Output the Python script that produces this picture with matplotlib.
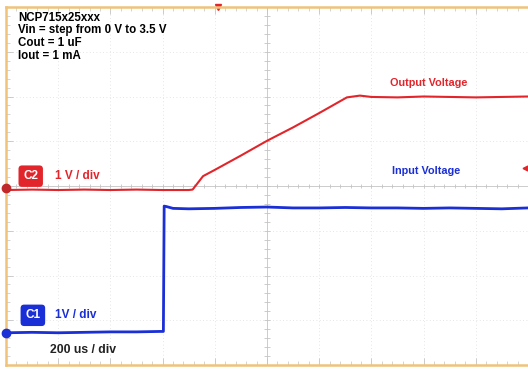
import numpy as np
import matplotlib.pyplot as plt

plt.rcParams['font.family'] = ['Liberation Sans', 'DejaVu Sans']

# scope settings
t_per_div = 200      # us / div
n_xdiv, n_ydiv = 10, 8
c2_ground = 3.95     # divisions from bottom
c1_ground = 0.72

# C1 - input voltage (V), time in us
t_in = [0, 100, 200, 300, 400, 500, 590, 603, 606, 615, 640, 700, 800, 900, 1000,
        1100, 1200, 1300, 1400, 1500, 1600, 1700, 1800, 1900, 2000]
v_in = [0.0, 0.01, 0.0, 0.01, 0.02, 0.02, 0.03, 0.03, 2.83, 2.82, 2.78, 2.77, 2.78, 2.80, 2.81,
        2.79, 2.79, 2.80, 2.79, 2.79, 2.78, 2.79, 2.78, 2.77, 2.79]

# C2 - output voltage (V)
t_out = [0, 100, 200, 300, 400, 500, 600, 700, 715, 755, 800, 900, 1000, 1100, 1200,
         1306, 1356, 1400, 1500, 1600, 1700, 1800, 1900, 2000]
v_out = [-0.04, -0.03, -0.04, -0.03, -0.04, -0.03, -0.04, -0.04, -0.03, 0.27, 0.41, 0.73, 1.06,
         1.36, 1.68, 2.03, 2.07, 2.04, 2.03, 2.05, 2.04, 2.03, 2.04, 2.05]

fig = plt.figure(figsize=(5.28, 3.69), dpi=100)
ax = fig.add_axes([6 / 528, 4 / 369, 522 / 528, 358 / 369])
ax.set_xlim(0, n_xdiv * t_per_div)
ax.set_ylim(0, n_ydiv)

# graticule
for i in range(1, n_xdiv):
    ax.axvline(i * t_per_div, color='#dddddd', lw=0.6, ls=(0, (1, 3)), zorder=0)
for j in range(1, n_ydiv):
    ax.axhline(j, color='#dddddd', lw=0.6, ls=(0, (1, 3)), zorder=0)
xc = n_xdiv * t_per_div / 2
yc = n_ydiv / 2
ax.axvline(xc, color='#cccccc', lw=0.7, zorder=0)
ax.axhline(yc, color='#cccccc', lw=0.7, zorder=0)
xm = np.arange(0, n_xdiv * t_per_div + 1, t_per_div / 5)
ym = np.arange(0, n_ydiv + 0.01, 0.2)
ax.plot(xm, np.full(len(xm), yc), ls='none', marker='|', ms=3, color='#c4c4c4', mew=0.6, zorder=0)
ax.plot(np.full(len(ym), xc), ym, ls='none', marker='_', ms=4, color='#c4c4c4', mew=0.6, zorder=0)

for s in ['left', 'top', 'bottom']:
    ax.spines[s].set_color('#f0c27a')
    ax.spines[s].set_linewidth(1.8)
ax.spines['right'].set_visible(False)
ax.set_xticks(np.arange(0, n_xdiv * t_per_div + 1, t_per_div))
ax.set_xticks(xm, minor=True)
ax.set_yticks(np.arange(0, n_ydiv + 1))
ax.set_yticks(ym, minor=True)
ax.tick_params(which='both', direction='in', colors='#c4c4c4', labelleft=False,
               labelbottom=False, top=True, right=False)
ax.tick_params(which='major', length=5, width=0.6)
ax.tick_params(which='minor', length=3, width=0.5)

# traces
ax.plot(t_out, np.array(v_out) + c2_ground, color='#e2252b', lw=1.5, zorder=3)
ax.plot(t_in, np.array(v_in) + c1_ground, color='#1a2fd6', lw=2.0, zorder=3)

# ground markers
ax.plot(0, c2_ground, 'o', color='#c0282a', ms=6, clip_on=False, zorder=4)
ax.plot(0, c1_ground, 'o', color='#1a2fd6', ms=6, clip_on=False, zorder=4)

# trigger markers
ax.plot(4.07 * t_per_div, n_ydiv, marker='v', color='#e2252b', ms=4, clip_on=False)
ax.plot(9.95 * t_per_div, 4.4, marker='<', color='#e2252b', ms=3.5)

# labels
ax.text(0.023, 0.987, 'NCP715x25xxx\nVin = step from 0 V to 3.5 V\nCout = 1 uF\nIout = 1 mA',
        transform=ax.transAxes, va='top', ha='left', fontsize=8.3, fontweight='bold',
        linespacing=1.07)
ax.text(0.033, 4.22, 'C2', color='white', fontsize=8.5, fontweight='bold', va='center',
        transform=ax.get_yaxis_transform(),
        bbox=dict(boxstyle='round,pad=0.4,rounding_size=0.3', fc='#e2252b', ec='none'))
ax.text(0.094, 4.22, '1 V / div', color='#e2252b', fontsize=8.5, fontweight='bold', va='center',
        transform=ax.get_yaxis_transform())
ax.text(0.037, 1.11, 'C1', color='white', fontsize=8.5, fontweight='bold', va='center',
        transform=ax.get_yaxis_transform(),
        bbox=dict(boxstyle='round,pad=0.4,rounding_size=0.3', fc='#1a2fd6', ec='none'))
ax.text(0.094, 1.11, '1V / div', color='#1a2fd6', fontsize=8.5, fontweight='bold', va='center',
        transform=ax.get_yaxis_transform())
ax.text(0.085, 0.33, '200 us / div', color='#222222', fontsize=8.8, fontweight='bold', va='center',
        transform=ax.get_yaxis_transform())
ax.text(0.735, 6.30, 'Output Voltage', color='#e2252b', fontsize=7.8, fontweight='bold',
        va='center', transform=ax.get_yaxis_transform())
ax.text(0.74, 4.33, 'Input Voltage', color='#1a2fd6', fontsize=7.8, fontweight='bold',
        va='center', transform=ax.get_yaxis_transform())

fig.savefig('out.png', dpi=100)
